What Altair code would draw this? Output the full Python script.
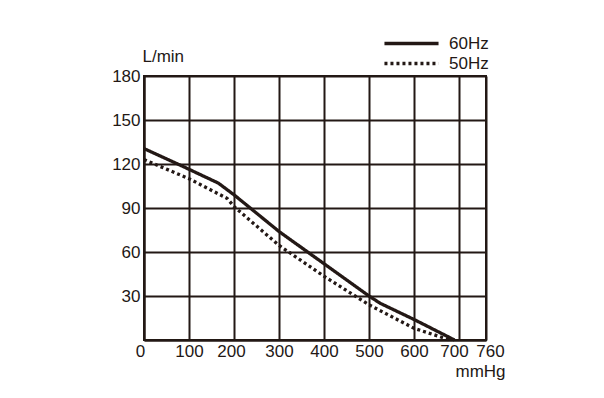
import altair as alt
import pandas as pd

# 60Hz curve
x60 = [0, 75, 165, 200, 300, 400, 500, 525, 600, 690]
y60 = [130.5, 120, 107, 99, 74, 52, 30, 25, 14, 0]
# 50Hz curve
x50 = [0, 100, 185, 200, 300, 400, 500, 600, 680]
y50 = [123, 110, 96.5, 91, 64.5, 43.5, 24, 8, 0]

series = ["60Hz", "50Hz"]
x_ticks = [0, 100, 200, 300, 400, 500, 600, 700, 760]
y_ticks = [0, 30, 60, 90, 120, 150, 180]

df = pd.concat([
    pd.DataFrame({"p": x60, "q": y60, "s": series[0], "o": range(len(x60))}),
    pd.DataFrame({"p": x50, "q": y50, "s": series[1], "o": range(len(x50))}),
])

INK = "#231815"
FONT = "Liberation Sans"

x_label_offset = {
    "condition": [
        {"test": "datum.value == 0", "value": -4},
        {"test": "datum.value == 200", "value": -3},
        {"test": "datum.value == 700", "value": -5},
        {"test": "datum.value == 760", "value": 4},
    ],
    "value": 0,
}

chart = alt.Chart(df).mark_line(strokeWidth=3.3, strokeCap="butt", strokeJoin="miter", color=INK).encode(
    x=alt.X("p:Q", scale=alt.Scale(domain=[0, 760], nice=False, zero=False),
            axis=alt.Axis(values=x_ticks, title="mmHg", grid=True, tickSize=0,
                          gridColor=INK, gridWidth=2, gridOpacity=1,
                          domainColor=INK, domainWidth=2,
                          labelPadding=3, labelFontSize=17, labelFont=FONT,
                          labelColor=INK, labelFlush=False, labelOverlap=False,
                          labelOffset=x_label_offset,
                          titleFont=FONT, titleFontSize=17, titleFontWeight="normal",
                          titleColor=INK, titleAnchor="start", titleAlign="left",
                          titleX=311, titleY=31, titleBaseline="middle")),
    y=alt.Y("q:Q", scale=alt.Scale(domain=[0, 180], nice=False),
            axis=alt.Axis(values=y_ticks, title="L/min", grid=True, tickSize=0,
                          gridColor=INK, gridWidth=2, gridOpacity=1,
                          domainColor=INK, domainWidth=2,
                          labelPadding=4, labelFontSize=17, labelFont=FONT,
                          labelColor=INK,
                          labelExpr="datum.value == 0 ? '' : datum.label",
                          titleFont=FONT, titleFontSize=17, titleFontWeight="normal",
                          titleColor=INK, titleAngle=0, titleAlign="left",
                          titleX=-2, titleY=-20, titleBaseline="middle")),
    order="o:Q",
    strokeDash=alt.StrokeDash("s:N", scale=alt.Scale(domain=series, range=[[1, 0], [3, 3]]),
                              legend=alt.Legend(title=None, orient="none", legendX=259, legendY=-41,
                                                symbolType="M-5,0H5", symbolSize=117,
                                                symbolStrokeWidth=3.3, symbolStrokeColor=INK,
                                                labelFont=FONT, labelFontSize=17, labelColor=INK,
                                                rowPadding=2, labelOffset=29, padding=0)),
).properties(
    width=342, height=264,
    padding={"left": 136, "top": 68, "right": 100, "bottom": 40},
    autosize=alt.AutoSizeParams(type="none"),
    background="white",
).configure_view(
    stroke=INK, strokeWidth=2
)

chart.save("out.html", embed_options={"renderer": "svg", "actions": False})
